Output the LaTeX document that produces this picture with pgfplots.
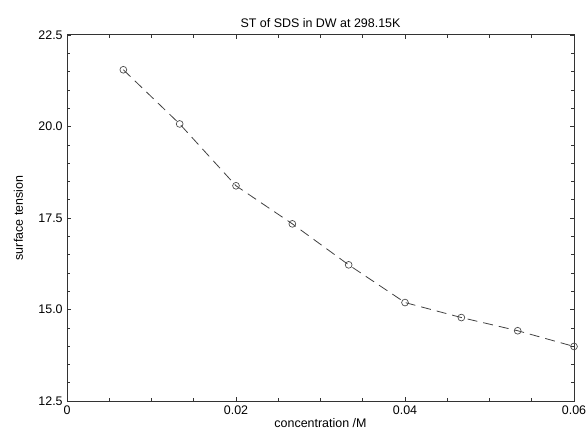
\documentclass[border=0pt]{standalone}
\usepackage{fontspec}
\setmainfont{Liberation Sans}
\usepackage{pgfplots}
\pgfplotsset{compat=1.18}

\begin{document}
\fontsize{12.5}{15}\selectfont
\begin{tikzpicture}
  \begin{axis}[
    scale only axis,
    width=507bp, height=366bp,
    xmin=0, xmax=0.06,
    ymin=12.5, ymax=22.5,
    scaled x ticks=false,
    /pgf/number format/assume math mode=true,
    xtick={0,0.02,0.04,0.06},
    xticklabels={0,0.02,0.04,0.06},
    minor x tick num=3,
    ytick={12.5,15,17.5,20,22.5},
    yticklabels={12.5,15.0,17.5,20.0,22.5},
    minor y tick num=4,
    tick align=inside,
    major tick length=4bp,
    minor tick length=3bp,
    every tick/.style={black!80, line width=0.6pt},
    axis line style={black!80, line width=1pt},
    title={ST of SDS in DW at 298.15K},
    title style={yshift=-3bp},
    xlabel={concentration /M},
    ylabel={surface tension},
    xlabel style={yshift=4bp},
    ylabel style={yshift=7bp},
    clip=false,
  ]
    \addplot[black!75, line width=0.8pt, dash pattern=on 10bp off 6bp,
      mark=o, mark size=3.4bp, mark options={solid, black!70, line width=0.7pt}]
      coordinates {
        (0.006667,21.55) (0.013333,20.07) (0.02,18.38) (0.026667,17.34)
        (0.033333,16.22) (0.04,15.19) (0.046667,14.78) (0.053333,14.42)
        (0.06,13.99)
      };
  \end{axis}
  \pgfresetboundingbox
  \useasboundingbox ([xshift=-67bp,yshift=-34bp]current axis.south west)
    rectangle ([xshift=13bp,yshift=35bp]current axis.north east);
\end{tikzpicture}
\end{document}
